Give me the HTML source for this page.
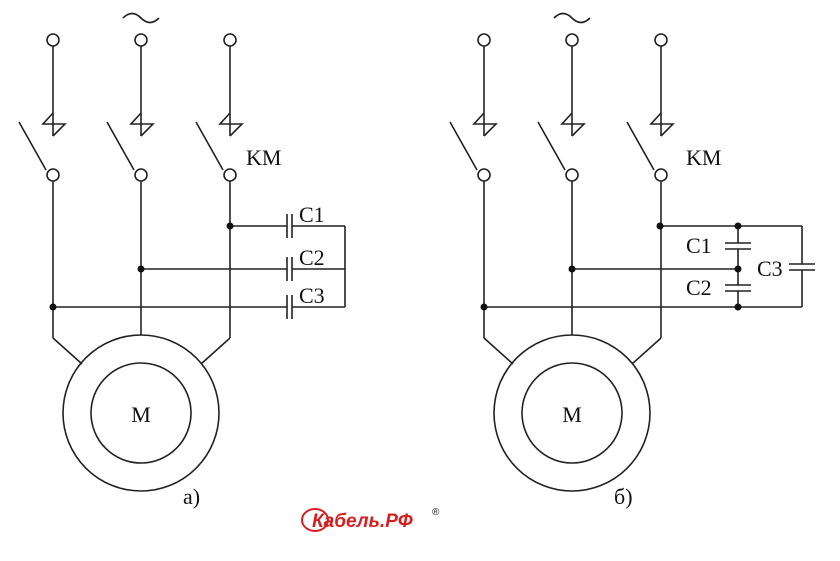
<!DOCTYPE html>
<html><head><meta charset="utf-8"><style>
html,body{margin:0;padding:0;background:#fff;width:840px;height:561px;overflow:hidden}
text{font-family:"Liberation Serif",serif;fill:#111}
</style></head><body>
<svg width="840" height="561" viewBox="0 0 840 561" xmlns="http://www.w3.org/2000/svg">
<defs>
<g id="col" stroke="#222" stroke-width="1.6" fill="none">
  <circle cx="0" cy="40" r="6" fill="#fff"/>
  <line x1="0" y1="46" x2="0" y2="136"/>
  <path d="M0,113 L-10,124 L12,124 L0,136"/>
  <line x1="-34" y1="122" x2="-7" y2="170"/>
  <circle cx="0" cy="175" r="6" fill="#fff"/>
</g>
<g id="base" stroke="#222" stroke-width="1.6" fill="none">
  <use href="#col" x="53"/><use href="#col" x="141"/><use href="#col" x="230"/>
  <line x1="53" y1="181" x2="53" y2="338"/>
  <line x1="53" y1="338" x2="82" y2="364"/>
  <line x1="230" y1="181" x2="230" y2="338"/>
  <line x1="230" y1="338" x2="201" y2="364"/>
  <line x1="141" y1="181" x2="141" y2="335"/>
  <circle cx="141" cy="413" r="78"/>
  <circle cx="141" cy="413" r="50"/>
  <path d="M123,18 q9,-9 18,0 t18,0"/>
</g>
</defs>
<use href="#base"/>
<text x="141" y="422" font-size="22" text-anchor="middle">M</text>
<text x="246" y="165" font-size="22">KM</text>
<g stroke="#222" stroke-width="1.6" fill="none">
  <line x1="230" y1="226" x2="287" y2="226"/><line x1="292" y1="226" x2="345" y2="226"/>
  <line x1="141" y1="269" x2="287" y2="269"/><line x1="292" y1="269" x2="345" y2="269"/>
  <line x1="53" y1="307" x2="287" y2="307"/><line x1="292" y1="307" x2="345" y2="307"/>
  <line x1="345" y1="226" x2="345" y2="307"/>
  <line x1="287" y1="214" x2="287" y2="238"/><line x1="292" y1="214" x2="292" y2="238"/>
  <line x1="287" y1="257" x2="287" y2="281"/><line x1="292" y1="257" x2="292" y2="281"/>
  <line x1="287" y1="295" x2="287" y2="319"/><line x1="292" y1="295" x2="292" y2="319"/>
</g>
<g fill="#111"><circle cx="230" cy="226" r="3.5"/><circle cx="141" cy="269" r="3.5"/><circle cx="53" cy="307" r="3.5"/></g>
<text x="299" y="222" font-size="22">C1</text>
<text x="299" y="265" font-size="22">C2</text>
<text x="299" y="303" font-size="22">C3</text>
<text x="183" y="504" font-size="22">a)</text>

<g transform="translate(431,0)"><use href="#base"/></g>
<text x="572" y="422" font-size="22" text-anchor="middle">M</text>
<text x="686" y="165" font-size="22">KM</text>
<g stroke="#222" stroke-width="1.6" fill="none">
  <line x1="660" y1="226" x2="802" y2="226"/>
  <line x1="572" y1="269" x2="738" y2="269"/>
  <line x1="484" y1="307" x2="802" y2="307"/>
  <line x1="738" y1="226" x2="738" y2="243"/><line x1="738" y1="249" x2="738" y2="285"/><line x1="738" y1="291" x2="738" y2="307"/>
  <line x1="725" y1="243" x2="751" y2="243"/><line x1="725" y1="249" x2="751" y2="249"/>
  <line x1="725" y1="285" x2="751" y2="285"/><line x1="725" y1="291" x2="751" y2="291"/>
  <line x1="802" y1="226" x2="802" y2="264"/><line x1="802" y1="270" x2="802" y2="307"/>
  <line x1="789" y1="264" x2="815" y2="264"/><line x1="789" y1="270" x2="815" y2="270"/>
</g>
<g fill="#111"><circle cx="660" cy="226" r="3.5"/><circle cx="738" cy="226" r="3.5"/><circle cx="572" cy="269" r="3.5"/><circle cx="738" cy="269" r="3.5"/><circle cx="484" cy="307" r="3.5"/><circle cx="738" cy="307" r="3.5"/></g>
<text x="686" y="253" font-size="22">C1</text>
<text x="686" y="295" font-size="22">C2</text>
<text x="757" y="276" font-size="22">C3</text>
<text x="614" y="504" font-size="22">б)</text>

<ellipse cx="315" cy="520" rx="13" ry="11" fill="none" stroke="#d42020" stroke-width="2"/>
<text x="312" y="527" font-size="19" font-weight="bold" font-style="italic" style="font-family:'Liberation Sans',sans-serif;fill:#d42020">Кабель.РФ</text>
<text x="432" y="515" font-size="10" style="font-family:'Liberation Sans',sans-serif;fill:#222">®</text>
</svg>
</body></html>
